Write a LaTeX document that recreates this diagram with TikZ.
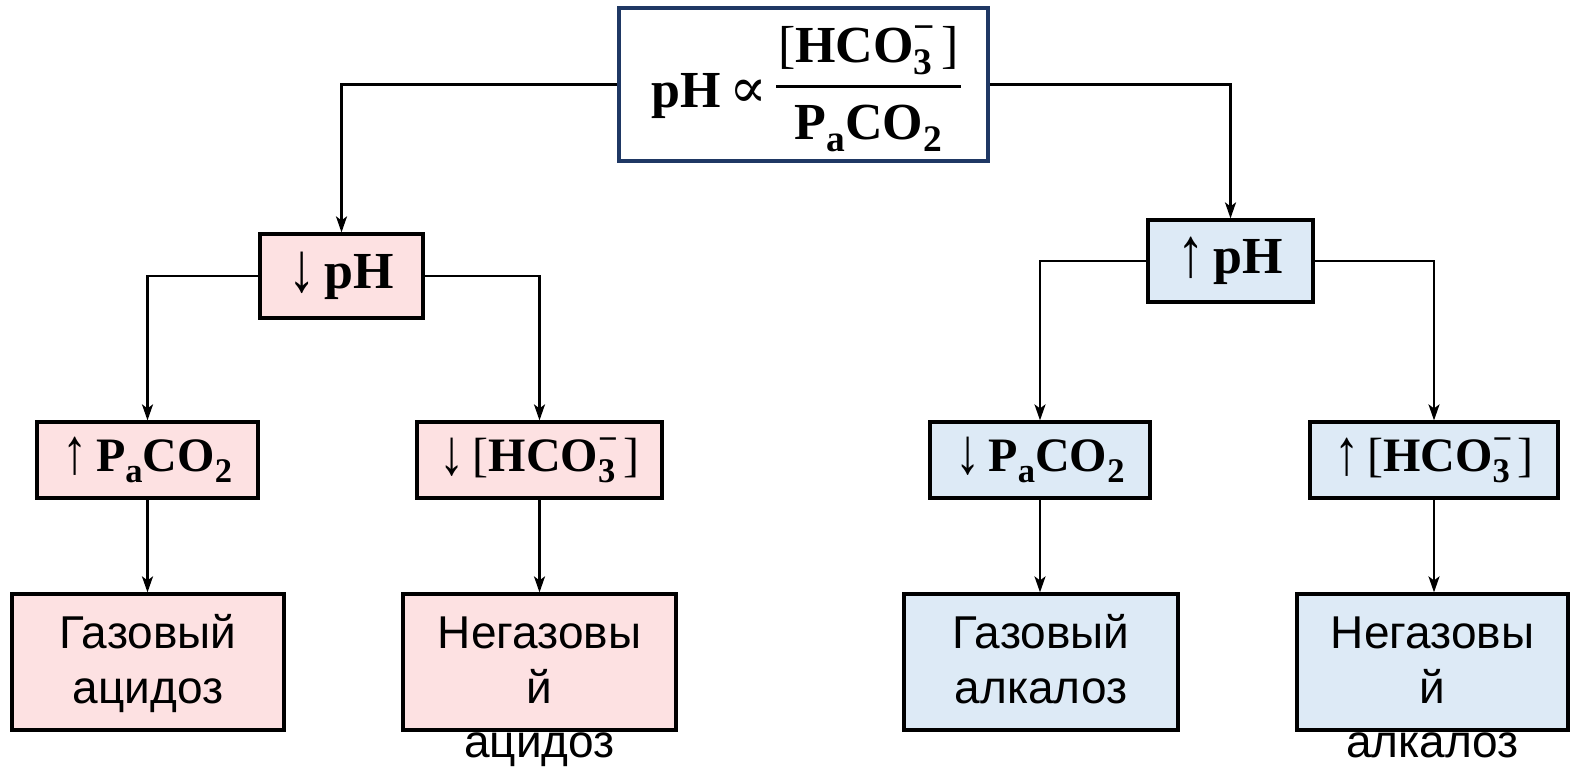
\documentclass[tikz,border=0pt]{standalone}
\usepackage{fontspec}
\usepackage{graphicx}
\setmainfont{Liberation Serif}
\newfontfamily\symfont{DejaVu Serif}
\newfontfamily\lblfont{Liberation Sans}
\usetikzlibrary{arrows.meta}
\definecolor{pinkfill}{HTML}{FDE1E2}
\definecolor{bluefill}{HTML}{DDEAF6}
\definecolor{navy}{HTML}{1F3864}
\newcommand\mysub[1]{\raisebox{-0.22em}{\scalebox{0.72}{#1}}}
\newcommand\mysup[1]{\raisebox{0.45em}{\scalebox{0.72}{#1}}}
\newcommand\arr[1]{\raisebox{-0.05em}{\scalebox{1.05}[1.35]{#1}}}
\newcommand\hcothree{{\mdseries[}\textbf{HCO}\rlap{\mysup{\textbf{−}}}\mysub{\textbf{3}}\,{\mdseries]}}
\newcommand\paco{\textbf{P}\mysub{\textbf{a}}\textbf{CO}\mysub{\textbf{2}}}
\begin{document}
\begin{tikzpicture}[x=1pt,y=-1pt,
  box/.style={draw=black, line width=3.2pt, inner sep=0pt},
  pinkbox/.style={box, fill=pinkfill},
  bluebox/.style={box, fill=bluefill},
  mathtxt/.style={font=\fontsize{48}{54}\selectfont},
  lbl/.style={font=\lblfont\fontsize{46}{55}\selectfont, anchor=base, inner sep=0pt},
  conn/.style={line width=2.2pt, -{Stealth[length=16pt,width=11pt,inset=4pt]}}]
\useasboundingbox (0,0) rectangle (1571,770);
% top box
\node[draw=navy, line width=4.2pt, fill=white, minimum width=369pt, minimum height=153pt, inner sep=0pt] (top) at (803.5,84.5) {};
\node[anchor=base, inner sep=0pt, font=\fontsize{52}{58}\selectfont] (formula) at (806,108)
  {\textbf{pH}\,{\symfont\fontsize{56}{60}\selectfont ∝}\,\raisebox{-32pt}{\setlength{\arrayrulewidth}{3pt}\renewcommand{\arraystretch}{1.28}\setlength{\tabcolsep}{2pt}\begin{tabular}[b]{c}\hcothree\\\hline\paco\end{tabular}}};
% middle boxes
\node[pinkbox, minimum width=163pt, minimum height=84pt, font=\fontsize{52}{56}\selectfont] (lph) at (341.5,276) {\arr{↓}\,\textbf{pH}};
\node[bluebox, minimum width=165pt, minimum height=82pt, font=\fontsize{52}{56}\selectfont] (rph) at (1230.5,261) {\arr{↑}\,\textbf{pH}};
% third row
\node[pinkbox, minimum width=221pt, minimum height=76pt, mathtxt] (lp) at (147.5,460) {\arr{↑}\,\paco};
\node[pinkbox, minimum width=245pt, minimum height=76pt, mathtxt] (lh) at (539.5,460) {\arr{↓}\,\hcothree};
\node[bluebox, minimum width=220pt, minimum height=76pt, mathtxt] (rp) at (1040,460) {\arr{↓}\,\paco};
\node[bluebox, minimum width=248pt, minimum height=76pt, mathtxt] (rh) at (1434,460) {\arr{↑}\,\hcothree};
% bottom boxes
\node[pinkbox, minimum width=272pt, minimum height=136pt] (la) at (148,662) {};
\node[pinkbox, minimum width=273pt, minimum height=136pt] (lb) at (539.5,662) {};
\node[bluebox, minimum width=274pt, minimum height=136pt] (ra) at (1041,662) {};
\node[bluebox, minimum width=271pt, minimum height=136pt] (rb) at (1432.5,662) {};
% labels
\node[lbl] (la1) at (148,648) {Газовый};
\node[lbl] (la2) at (148,703) {ацидоз};
\node[lbl] (lb1) at (539.5,648) {Негазовы};
\node[lbl] (lb2) at (539.5,703) {й};
\node[lbl] (lb3) at (539.5,757) {ацидоз};
\node[lbl] (ra1) at (1041,648) {Газовый};
\node[lbl] (ra2) at (1041,703) {алкалоз};
\node[lbl] (rb1) at (1432.5,648) {Негазовы};
\node[lbl] (rb2) at (1432.5,703) {й};
\node[lbl] (rb3) at (1432.5,757) {алкалоз};
% connectors
\draw[conn] (top.west) -| (lph.north);
\draw[conn] (top.east) -| (rph.north);
\draw[conn] (lph.west) -| (lp.north);
\draw[conn] (lph.east) -| (lh.north);
\draw[conn] (rph.west) -| (rp.north);
\draw[conn] (rph.east) -| (rh.north);
\draw[conn] (lp.south) -- (lp.south |- la.north);
\draw[conn] (lh.south) -- (lh.south |- lb.north);
\draw[conn] (rp.south) -- (rp.south |- ra.north);
\draw[conn] (rh.south) -- (rh.south |- rb.north);
\end{tikzpicture}
\end{document}
